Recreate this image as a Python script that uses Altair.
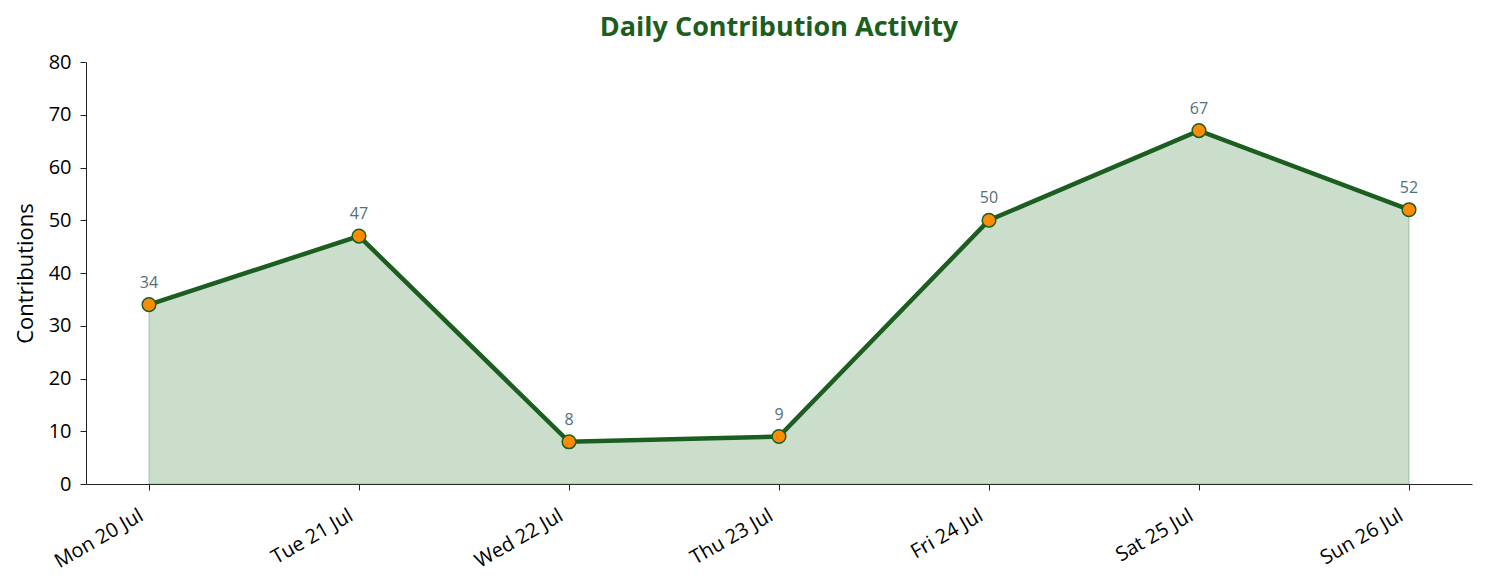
import pandas as pd
import altair as alt

days = ["Mon 20 Jul", "Tue 21 Jul", "Wed 22 Jul", "Thu 23 Jul", "Fri 24 Jul", "Sat 25 Jul", "Sun 26 Jul"]
contributions = [34, 47, 8, 9, 50, 67, 52]

df = pd.DataFrame({"day": days, "count": contributions})

FONT = "Open Sans"
GREEN = "#1b5e20"

base = alt.Chart(df).encode(
    x=alt.X("day:O", sort=days,
            scale=alt.Scale(type="point", padding=0.3),
            axis=alt.Axis(title=None, labelAngle=-30, labelAlign="right", labelBaseline="top",
                          labelFontSize=20, labelColor="#000", tickSize=6, labelPadding=15,
                          labelOffset=-13, domainColor="#222", tickColor="#222", labelFont=FONT)),
)

yenc = alt.Y("count:Q", scale=alt.Scale(domain=[0, 80], nice=False),
             axis=alt.Axis(title="Contributions", values=list(range(0, 81, 10)), grid=False,
                           labelFontSize=20, labelColor="#000", titleFontSize=22,
                           titleFontWeight="normal", titleColor="#000", titleFont=FONT,
                           labelFont=FONT, tickSize=6, labelPadding=9, domainColor="#222",
                           tickColor="#222", titlePadding=11))

area = base.mark_area(color="#2e7d32", fillOpacity=0.25, stroke="#2e7d32",
                      strokeOpacity=0.3, strokeWidth=1.2).encode(y=yenc)
line = base.mark_line(color=GREEN, strokeWidth=4.5).encode(y="count:Q")
pts = base.mark_point(filled=True, fill="#ff8c00", stroke=GREEN, strokeWidth=1.5,
                      size=185, opacity=1).encode(y="count:Q")
labels = base.mark_text(dy=-22, fontSize=16, color="#546e7a", font=FONT).encode(
    y="count:Q", text="count:Q")

chart = alt.layer(area, line, pts, labels).properties(
    width=1386, height=422, background="white",
    padding={"left": 6, "top": 6, "right": 5, "bottom": 5},
    title=alt.TitleParams("Daily Contribution Activity", fontSize=27, fontWeight="bold",
                          color=GREEN, font=FONT, offset=10),
).configure_view(strokeWidth=0)

chart.save("out.html", embed_options={"renderer": "svg", "actions": False})
